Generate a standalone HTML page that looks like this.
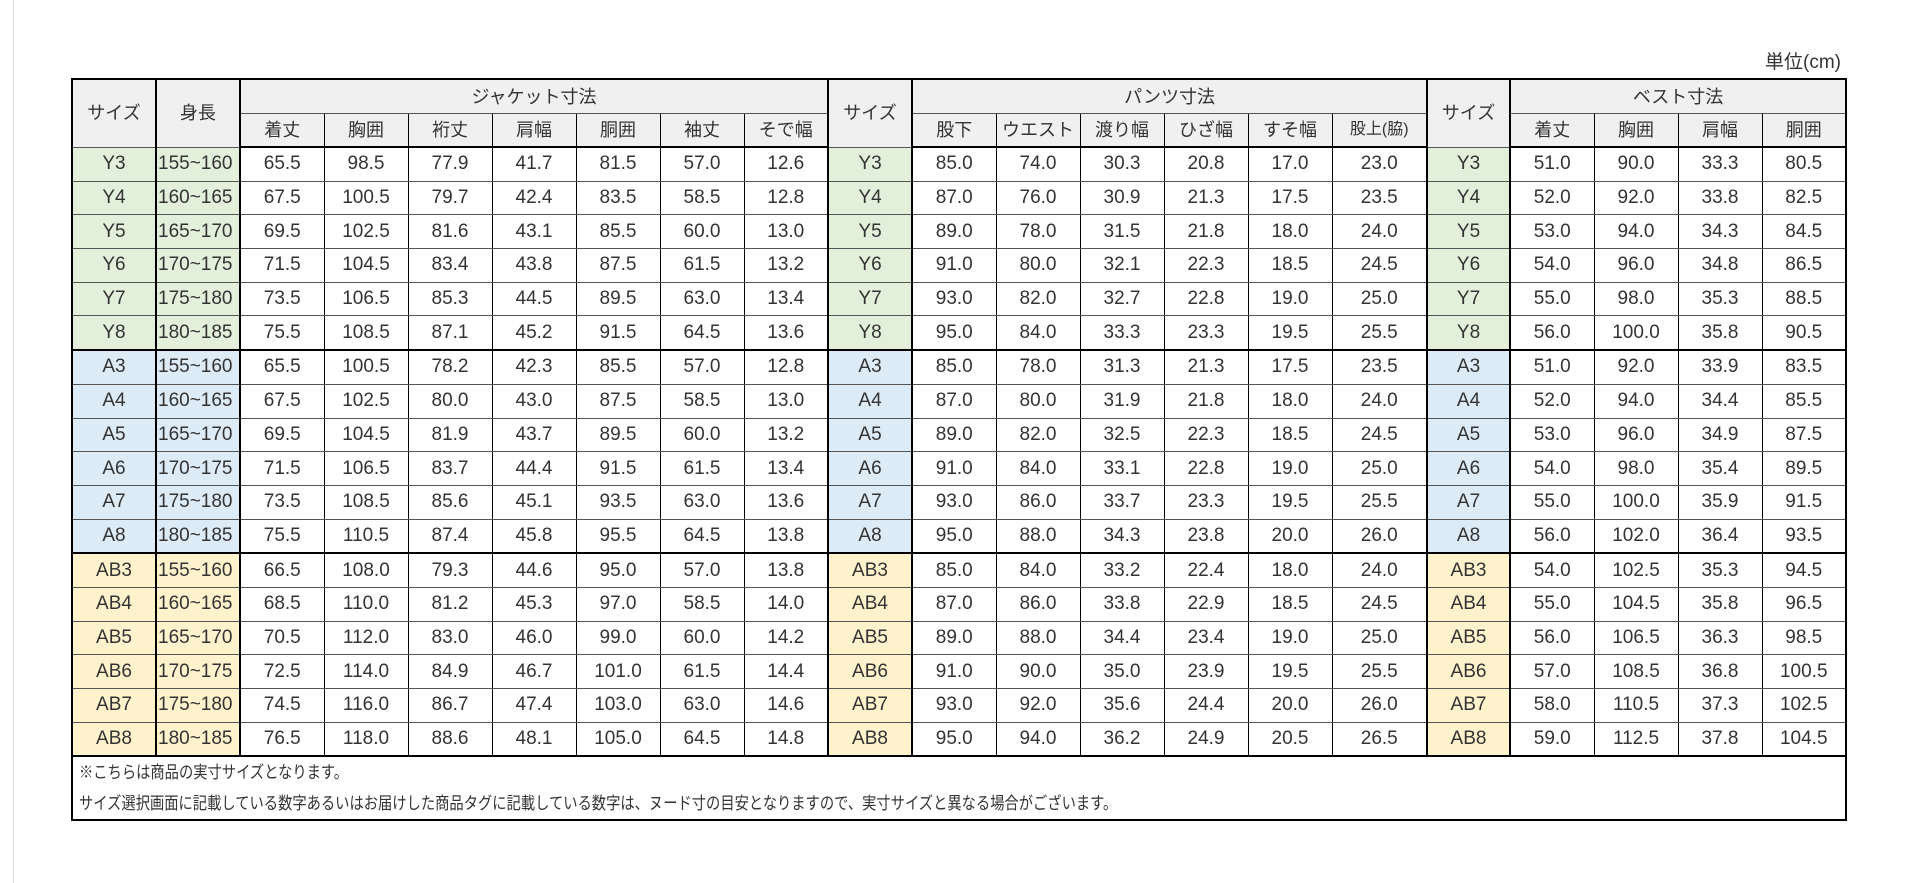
<!DOCTYPE html>
<html><head><meta charset="utf-8"><style>
body{margin:0;width:1905px;height:883px;background:#fff;position:relative;overflow:hidden;font-family:"Liberation Sans","Noto Sans CJK JP",sans-serif;color:#333}
.vl{position:absolute;left:13px;top:0;width:1px;height:883px;background:#ddd}
.unit{position:absolute;right:64px;top:47px;font-size:19px;color:#333}
table{position:absolute;left:71px;top:78px;width:1774px;border-collapse:collapse;table-layout:fixed;font-size:19px}
td{border:1px solid #000;border-top:1px solid #555;border-bottom:1px solid #555;text-align:center;padding:0;height:32.7px;line-height:20px;white-space:nowrap;overflow:visible}
tr.h td{background:#f0f0f0;font-size:18px}
tr.h1 td{height:33px}
tr.h2 td{height:32px;border-bottom:2px solid #000}
.tk{border-left:2px solid #000;border-right:2px solid #000}
.g{background:#e2efda}.b{background:#ddebf7}.y{background:#fff2cc}
.ht{text-align:left;padding-left:1px}
tr.sep td{border-bottom:2px solid #000}
tr.f td{text-align:left;height:31px;padding-left:6px;font-size:17px;border-left:2px solid #000;border-right:2px solid #000}
tr.f td span{display:inline-block;transform:scaleX(0.84);transform-origin:left center}
tr.f1 td{border-top:2px solid #000;border-bottom:none}
tr.f2 td{border-top:none;border-bottom:2px solid #000}
table{border:2px solid #000}
</style></head><body>
<div class="vl"></div>
<div class="unit">単位(cm)</div>
<table>
<colgroup><col style="width:84px"><col style="width:84px"><col span="7" style="width:84px"><col style="width:84px"><col span="5" style="width:84px"><col style="width:95px"><col style="width:83px"><col span="4" style="width:84px"></colgroup>
<tr class="h h1"><td rowspan="2" class="tk">サイズ</td><td rowspan="2" class="tk">身長</td><td colspan="7">ジャケット寸法</td><td rowspan="2" class="tk">サイズ</td><td colspan="6">パンツ寸法</td><td rowspan="2" class="tk">サイズ</td><td colspan="4">ベスト寸法</td></tr>
<tr class="h h2"><td>着丈</td><td>胸囲</td><td>裄丈</td><td>肩幅</td><td>胴囲</td><td>袖丈</td><td>そで幅</td><td>股下</td><td>ウエスト</td><td>渡り幅</td><td>ひざ幅</td><td>すそ幅</td><td style="font-size:16px">股上(脇)</td><td>着丈</td><td>胸囲</td><td>肩幅</td><td>胴囲</td></tr>
<tr><td class="tk g">Y3</td><td class="tk g ht">155~160</td><td>65.5</td><td>98.5</td><td>77.9</td><td>41.7</td><td>81.5</td><td>57.0</td><td>12.6</td><td class="tk g">Y3</td><td>85.0</td><td>74.0</td><td>30.3</td><td>20.8</td><td>17.0</td><td>23.0</td><td class="tk g">Y3</td><td>51.0</td><td>90.0</td><td>33.3</td><td>80.5</td></tr>
<tr><td class="tk g">Y4</td><td class="tk g ht">160~165</td><td>67.5</td><td>100.5</td><td>79.7</td><td>42.4</td><td>83.5</td><td>58.5</td><td>12.8</td><td class="tk g">Y4</td><td>87.0</td><td>76.0</td><td>30.9</td><td>21.3</td><td>17.5</td><td>23.5</td><td class="tk g">Y4</td><td>52.0</td><td>92.0</td><td>33.8</td><td>82.5</td></tr>
<tr><td class="tk g">Y5</td><td class="tk g ht">165~170</td><td>69.5</td><td>102.5</td><td>81.6</td><td>43.1</td><td>85.5</td><td>60.0</td><td>13.0</td><td class="tk g">Y5</td><td>89.0</td><td>78.0</td><td>31.5</td><td>21.8</td><td>18.0</td><td>24.0</td><td class="tk g">Y5</td><td>53.0</td><td>94.0</td><td>34.3</td><td>84.5</td></tr>
<tr><td class="tk g">Y6</td><td class="tk g ht">170~175</td><td>71.5</td><td>104.5</td><td>83.4</td><td>43.8</td><td>87.5</td><td>61.5</td><td>13.2</td><td class="tk g">Y6</td><td>91.0</td><td>80.0</td><td>32.1</td><td>22.3</td><td>18.5</td><td>24.5</td><td class="tk g">Y6</td><td>54.0</td><td>96.0</td><td>34.8</td><td>86.5</td></tr>
<tr><td class="tk g">Y7</td><td class="tk g ht">175~180</td><td>73.5</td><td>106.5</td><td>85.3</td><td>44.5</td><td>89.5</td><td>63.0</td><td>13.4</td><td class="tk g">Y7</td><td>93.0</td><td>82.0</td><td>32.7</td><td>22.8</td><td>19.0</td><td>25.0</td><td class="tk g">Y7</td><td>55.0</td><td>98.0</td><td>35.3</td><td>88.5</td></tr>
<tr class="sep"><td class="tk g">Y8</td><td class="tk g ht">180~185</td><td>75.5</td><td>108.5</td><td>87.1</td><td>45.2</td><td>91.5</td><td>64.5</td><td>13.6</td><td class="tk g">Y8</td><td>95.0</td><td>84.0</td><td>33.3</td><td>23.3</td><td>19.5</td><td>25.5</td><td class="tk g">Y8</td><td>56.0</td><td>100.0</td><td>35.8</td><td>90.5</td></tr>
<tr><td class="tk b">A3</td><td class="tk b ht">155~160</td><td>65.5</td><td>100.5</td><td>78.2</td><td>42.3</td><td>85.5</td><td>57.0</td><td>12.8</td><td class="tk b">A3</td><td>85.0</td><td>78.0</td><td>31.3</td><td>21.3</td><td>17.5</td><td>23.5</td><td class="tk b">A3</td><td>51.0</td><td>92.0</td><td>33.9</td><td>83.5</td></tr>
<tr><td class="tk b">A4</td><td class="tk b ht">160~165</td><td>67.5</td><td>102.5</td><td>80.0</td><td>43.0</td><td>87.5</td><td>58.5</td><td>13.0</td><td class="tk b">A4</td><td>87.0</td><td>80.0</td><td>31.9</td><td>21.8</td><td>18.0</td><td>24.0</td><td class="tk b">A4</td><td>52.0</td><td>94.0</td><td>34.4</td><td>85.5</td></tr>
<tr><td class="tk b">A5</td><td class="tk b ht">165~170</td><td>69.5</td><td>104.5</td><td>81.9</td><td>43.7</td><td>89.5</td><td>60.0</td><td>13.2</td><td class="tk b">A5</td><td>89.0</td><td>82.0</td><td>32.5</td><td>22.3</td><td>18.5</td><td>24.5</td><td class="tk b">A5</td><td>53.0</td><td>96.0</td><td>34.9</td><td>87.5</td></tr>
<tr><td class="tk b">A6</td><td class="tk b ht">170~175</td><td>71.5</td><td>106.5</td><td>83.7</td><td>44.4</td><td>91.5</td><td>61.5</td><td>13.4</td><td class="tk b">A6</td><td>91.0</td><td>84.0</td><td>33.1</td><td>22.8</td><td>19.0</td><td>25.0</td><td class="tk b">A6</td><td>54.0</td><td>98.0</td><td>35.4</td><td>89.5</td></tr>
<tr><td class="tk b">A7</td><td class="tk b ht">175~180</td><td>73.5</td><td>108.5</td><td>85.6</td><td>45.1</td><td>93.5</td><td>63.0</td><td>13.6</td><td class="tk b">A7</td><td>93.0</td><td>86.0</td><td>33.7</td><td>23.3</td><td>19.5</td><td>25.5</td><td class="tk b">A7</td><td>55.0</td><td>100.0</td><td>35.9</td><td>91.5</td></tr>
<tr class="sep"><td class="tk b">A8</td><td class="tk b ht">180~185</td><td>75.5</td><td>110.5</td><td>87.4</td><td>45.8</td><td>95.5</td><td>64.5</td><td>13.8</td><td class="tk b">A8</td><td>95.0</td><td>88.0</td><td>34.3</td><td>23.8</td><td>20.0</td><td>26.0</td><td class="tk b">A8</td><td>56.0</td><td>102.0</td><td>36.4</td><td>93.5</td></tr>
<tr><td class="tk y">AB3</td><td class="tk y ht">155~160</td><td>66.5</td><td>108.0</td><td>79.3</td><td>44.6</td><td>95.0</td><td>57.0</td><td>13.8</td><td class="tk y">AB3</td><td>85.0</td><td>84.0</td><td>33.2</td><td>22.4</td><td>18.0</td><td>24.0</td><td class="tk y">AB3</td><td>54.0</td><td>102.5</td><td>35.3</td><td>94.5</td></tr>
<tr><td class="tk y">AB4</td><td class="tk y ht">160~165</td><td>68.5</td><td>110.0</td><td>81.2</td><td>45.3</td><td>97.0</td><td>58.5</td><td>14.0</td><td class="tk y">AB4</td><td>87.0</td><td>86.0</td><td>33.8</td><td>22.9</td><td>18.5</td><td>24.5</td><td class="tk y">AB4</td><td>55.0</td><td>104.5</td><td>35.8</td><td>96.5</td></tr>
<tr><td class="tk y">AB5</td><td class="tk y ht">165~170</td><td>70.5</td><td>112.0</td><td>83.0</td><td>46.0</td><td>99.0</td><td>60.0</td><td>14.2</td><td class="tk y">AB5</td><td>89.0</td><td>88.0</td><td>34.4</td><td>23.4</td><td>19.0</td><td>25.0</td><td class="tk y">AB5</td><td>56.0</td><td>106.5</td><td>36.3</td><td>98.5</td></tr>
<tr><td class="tk y">AB6</td><td class="tk y ht">170~175</td><td>72.5</td><td>114.0</td><td>84.9</td><td>46.7</td><td>101.0</td><td>61.5</td><td>14.4</td><td class="tk y">AB6</td><td>91.0</td><td>90.0</td><td>35.0</td><td>23.9</td><td>19.5</td><td>25.5</td><td class="tk y">AB6</td><td>57.0</td><td>108.5</td><td>36.8</td><td>100.5</td></tr>
<tr><td class="tk y">AB7</td><td class="tk y ht">175~180</td><td>74.5</td><td>116.0</td><td>86.7</td><td>47.4</td><td>103.0</td><td>63.0</td><td>14.6</td><td class="tk y">AB7</td><td>93.0</td><td>92.0</td><td>35.6</td><td>24.4</td><td>20.0</td><td>26.0</td><td class="tk y">AB7</td><td>58.0</td><td>110.5</td><td>37.3</td><td>102.5</td></tr>
<tr><td class="tk y">AB8</td><td class="tk y ht">180~185</td><td>76.5</td><td>118.0</td><td>88.6</td><td>48.1</td><td>105.0</td><td>64.5</td><td>14.8</td><td class="tk y">AB8</td><td>95.0</td><td>94.0</td><td>36.2</td><td>24.9</td><td>20.5</td><td>26.5</td><td class="tk y">AB8</td><td>59.0</td><td>112.5</td><td>37.8</td><td>104.5</td></tr>
<tr class="f f1"><td colspan="21"><span>※こちらは商品の実寸サイズとなります。</span></td></tr>
<tr class="f f2"><td colspan="21"><span>サイズ選択画面に記載している数字あるいはお届けした商品タグに記載している数字は、ヌード寸の目安となりますので、実寸サイズと異なる場合がございます。</span></td></tr>
</table>
</body></html>
